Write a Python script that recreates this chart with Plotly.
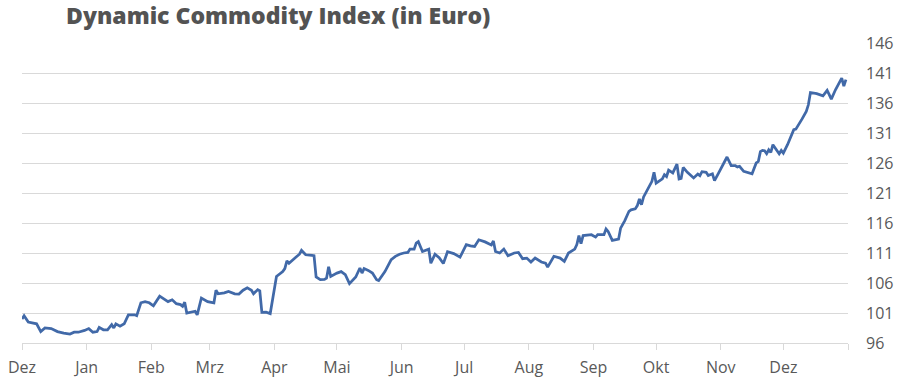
import plotly.graph_objects as go

dates = [
    "2020-12-01", "2020-12-02", "2020-12-04", "2020-12-06", "2020-12-08", "2020-12-10",
    "2020-12-12", "2020-12-15", "2020-12-18", "2020-12-21", "2020-12-24", "2020-12-26",
    "2020-12-28", "2020-12-31", "2021-01-02", "2021-01-04", "2021-01-06", "2021-01-07",
    "2021-01-09", "2021-01-11", "2021-01-13", "2021-01-14", "2021-01-15", "2021-01-17",
    "2021-01-19", "2021-01-21", "2021-01-24", "2021-01-25", "2021-01-27", "2021-01-29",
    "2021-01-31", "2021-02-02", "2021-02-05", "2021-02-09", "2021-02-11", "2021-02-13",
    "2021-02-15", "2021-02-16", "2021-02-17", "2021-02-18", "2021-02-21", "2021-02-22",
    "2021-02-23", "2021-02-25", "2021-02-28", "2021-03-03", "2021-03-04", "2021-03-05",
    "2021-03-08", "2021-03-10", "2021-03-13", "2021-03-15", "2021-03-17", "2021-03-19",
    "2021-03-21", "2021-03-22", "2021-03-24", "2021-03-25", "2021-03-26", "2021-03-28",
    "2021-03-30", "2021-04-02", "2021-04-05", "2021-04-06", "2021-04-07", "2021-04-08",
    "2021-04-11", "2021-04-13", "2021-04-14", "2021-04-16", "2021-04-19", "2021-04-20",
    "2021-04-21", "2021-04-23", "2021-04-25", "2021-04-26", "2021-04-27", "2021-04-28",
    "2021-05-01", "2021-05-03", "2021-05-05", "2021-05-07", "2021-05-10", "2021-05-12",
    "2021-05-13", "2021-05-14", "2021-05-16", "2021-05-18", "2021-05-20", "2021-05-21",
    "2021-05-24", "2021-05-25", "2021-05-27", "2021-05-29", "2021-05-31", "2021-06-02",
    "2021-06-04", "2021-06-05", "2021-06-07", "2021-06-08", "2021-06-09", "2021-06-11",
    "2021-06-13", "2021-06-14", "2021-06-15", "2021-06-17", "2021-06-19", "2021-06-21",
    "2021-06-23", "2021-06-26", "2021-06-29", "2021-07-02", "2021-07-04", "2021-07-06",
    "2021-07-08", "2021-07-11", "2021-07-14", "2021-07-15", "2021-07-16", "2021-07-18",
    "2021-07-20", "2021-07-22", "2021-07-25", "2021-07-27", "2021-07-29", "2021-07-31",
    "2021-08-02", "2021-08-04", "2021-08-07", "2021-08-09", "2021-08-10", "2021-08-13",
    "2021-08-16", "2021-08-18", "2021-08-20", "2021-08-23", "2021-08-24", "2021-08-25",
    "2021-08-26", "2021-08-27", "2021-08-31", "2021-09-02", "2021-09-03", "2021-09-06",
    "2021-09-07", "2021-09-08", "2021-09-10", "2021-09-11", "2021-09-13", "2021-09-14",
    "2021-09-16", "2021-09-18", "2021-09-19", "2021-09-21", "2021-09-22", "2021-09-23",
    "2021-09-24", "2021-09-25", "2021-09-27", "2021-09-29", "2021-09-30", "2021-10-01",
    "2021-10-04", "2021-10-05", "2021-10-06", "2021-10-07", "2021-10-09", "2021-10-11",
    "2021-10-12", "2021-10-13", "2021-10-14", "2021-10-16", "2021-10-19", "2021-10-21",
    "2021-10-22", "2021-10-23", "2021-10-25", "2021-10-26", "2021-10-28", "2021-10-29",
    "2021-10-31", "2021-11-02", "2021-11-04", "2021-11-06", "2021-11-08", "2021-11-09",
    "2021-11-10", "2021-11-12", "2021-11-14", "2021-11-16", "2021-11-18", "2021-11-19",
    "2021-11-20", "2021-11-21", "2021-11-22", "2021-11-23", "2021-11-24", "2021-11-25",
    "2021-11-26", "2021-11-27", "2021-11-29", "2021-11-30", "2021-12-01", "2021-12-03",
    "2021-12-05", "2021-12-06", "2021-12-07", "2021-12-09", "2021-12-10", "2021-12-12",
    "2021-12-13", "2021-12-14", "2021-12-17", "2021-12-20", "2021-12-22", "2021-12-23",
    "2021-12-24", "2021-12-26", "2021-12-28", "2021-12-29", "2021-12-30", "2021-12-31",
]

index_values = [
    100.0, 100.55, 99.5, 99.3, 99.2, 97.9,
    98.5, 98.4, 97.9, 97.65, 97.5, 97.8,
    97.8, 98.1, 98.4, 97.8, 97.9, 98.6,
    98.2, 98.2, 99.05, 98.5, 99.2, 98.8,
    99.2, 100.7, 100.7, 100.55, 102.7, 102.9,
    102.7, 102.2, 103.8, 102.9, 103.2, 102.55,
    102.4, 102.1, 102.8, 101.0, 101.15, 101.3,
    100.7, 103.5, 102.9, 102.7, 104.8, 104.2,
    104.35, 104.6, 104.2, 104.15, 104.8, 105.2,
    104.8, 104.2, 104.9, 104.7, 101.1, 101.15,
    100.9, 107.1, 107.9, 108.4, 109.7, 109.3,
    110.2, 110.8, 111.45, 110.7, 110.6, 110.55,
    107.0, 106.55, 106.6, 106.8, 108.7, 107.1,
    107.65, 107.9, 107.4, 105.9, 107.0, 108.5,
    107.65, 108.4, 108.1, 107.65, 106.55, 106.4,
    107.9, 108.5, 109.9, 110.45, 110.8, 111.0,
    111.1, 111.65, 111.65, 112.65, 112.9, 111.25,
    111.45, 111.65, 109.3, 110.8, 110.2, 109.25,
    111.2, 110.9, 110.3, 112.4, 112.2, 112.1,
    113.2, 112.85, 112.35, 113.0, 111.25, 111.0,
    111.65, 110.55, 111.0, 111.1, 110.05, 110.15,
    109.5, 110.15, 109.5, 109.3, 108.65, 110.45,
    110.15, 109.6, 111.0, 111.65, 112.4, 113.9,
    112.55, 113.9, 114.05, 113.65, 114.05, 114.05,
    115.0, 114.6, 113.1, 113.2, 113.3, 115.15,
    116.4, 117.95, 118.2, 118.35, 118.9, 120.0,
    119.05, 120.35, 121.55, 122.95, 124.45, 122.65,
    123.35, 124.05, 123.75, 124.8, 124.35, 125.8,
    123.35, 123.45, 125.25, 124.45, 123.5, 124.15,
    123.9, 124.55, 124.45, 123.9, 124.2, 123.05,
    124.35, 125.7, 127.0, 125.55, 125.55, 125.35,
    125.45, 124.6, 124.45, 124.2, 126.0, 126.25,
    127.9, 128.1, 128.05, 127.55, 128.2, 127.75,
    129.05, 128.5, 127.55, 128.1, 127.65, 129.05,
    130.55, 131.55, 131.65, 132.65, 133.35, 134.6,
    135.7, 137.75, 137.55, 137.2, 138.1, 137.4,
    136.65, 138.2, 139.45, 140.15, 138.8, 139.9,
]

month_ticks = [
    "2020-12-01", "2021-01-01", "2021-02-01", "2021-03-01", "2021-04-01",
    "2021-05-01", "2021-06-01", "2021-07-01", "2021-08-01", "2021-09-01",
    "2021-10-01", "2021-11-01", "2021-12-01", "2022-01-01",
]
month_labels = ["Dez", "Jan", "Feb", "Mrz", "Apr", "Mai", "Jun", "Jul",
                "Aug", "Sep", "Okt", "Nov", "Dez", ""]
y_ticks = [96, 101, 106, 111, 116, 121, 126, 131, 136, 141, 146]

fig = go.Figure()
fig.add_trace(go.Scatter(
    x=dates, y=index_values, mode="lines",
    line=dict(color="#4169A8", width=2.75),
    hoverinfo="x+y", showlegend=False,
))

axis_font = dict(family="Open Sans, Liberation Sans, sans-serif", size=16, color="#595959")

fig.update_layout(
    width=904, height=387,
    margin=dict(l=22, r=56, t=43, b=44, autoexpand=False),
    paper_bgcolor="white", plot_bgcolor="white",
    title=dict(
        text="Dynamic Commodity Index (in Euro)",
        font=dict(family="Open Sans, sans-serif", size=23, color="#535353", weight=800),
        xref="container", yref="container",
        x=66 / 904, xanchor="left",
        y=1 - 16 / 387, yanchor="middle",
    ),
    xaxis=dict(
        type="date",
        range=["2020-12-01", "2022-01-01"],
        tickvals=month_ticks, ticktext=month_labels,
        ticks="outside", ticklen=6, tickcolor="#d9d9d9", tickwidth=1,
        ticklabelstandoff=4,
        showgrid=False, zeroline=False,
        showline=True, linecolor="#d9d9d9", linewidth=1,
        tickfont=axis_font, automargin=False,
        fixedrange=True,
    ),
    yaxis=dict(
        range=[96, 146], side="right",
        tickvals=y_ticks,
        showgrid=True, gridcolor="#d9d9d9", gridwidth=1,
        zeroline=False, showline=False,
        ticks="", ticklabelstandoff=17,
        tickfont=axis_font, automargin=False,
        fixedrange=True,
    ),
)

fig.write_html(
    "out.html",
    config={"displayModeBar": False},
    post_script="document.body.style.margin='0';document.body.style.padding='0';",
)
